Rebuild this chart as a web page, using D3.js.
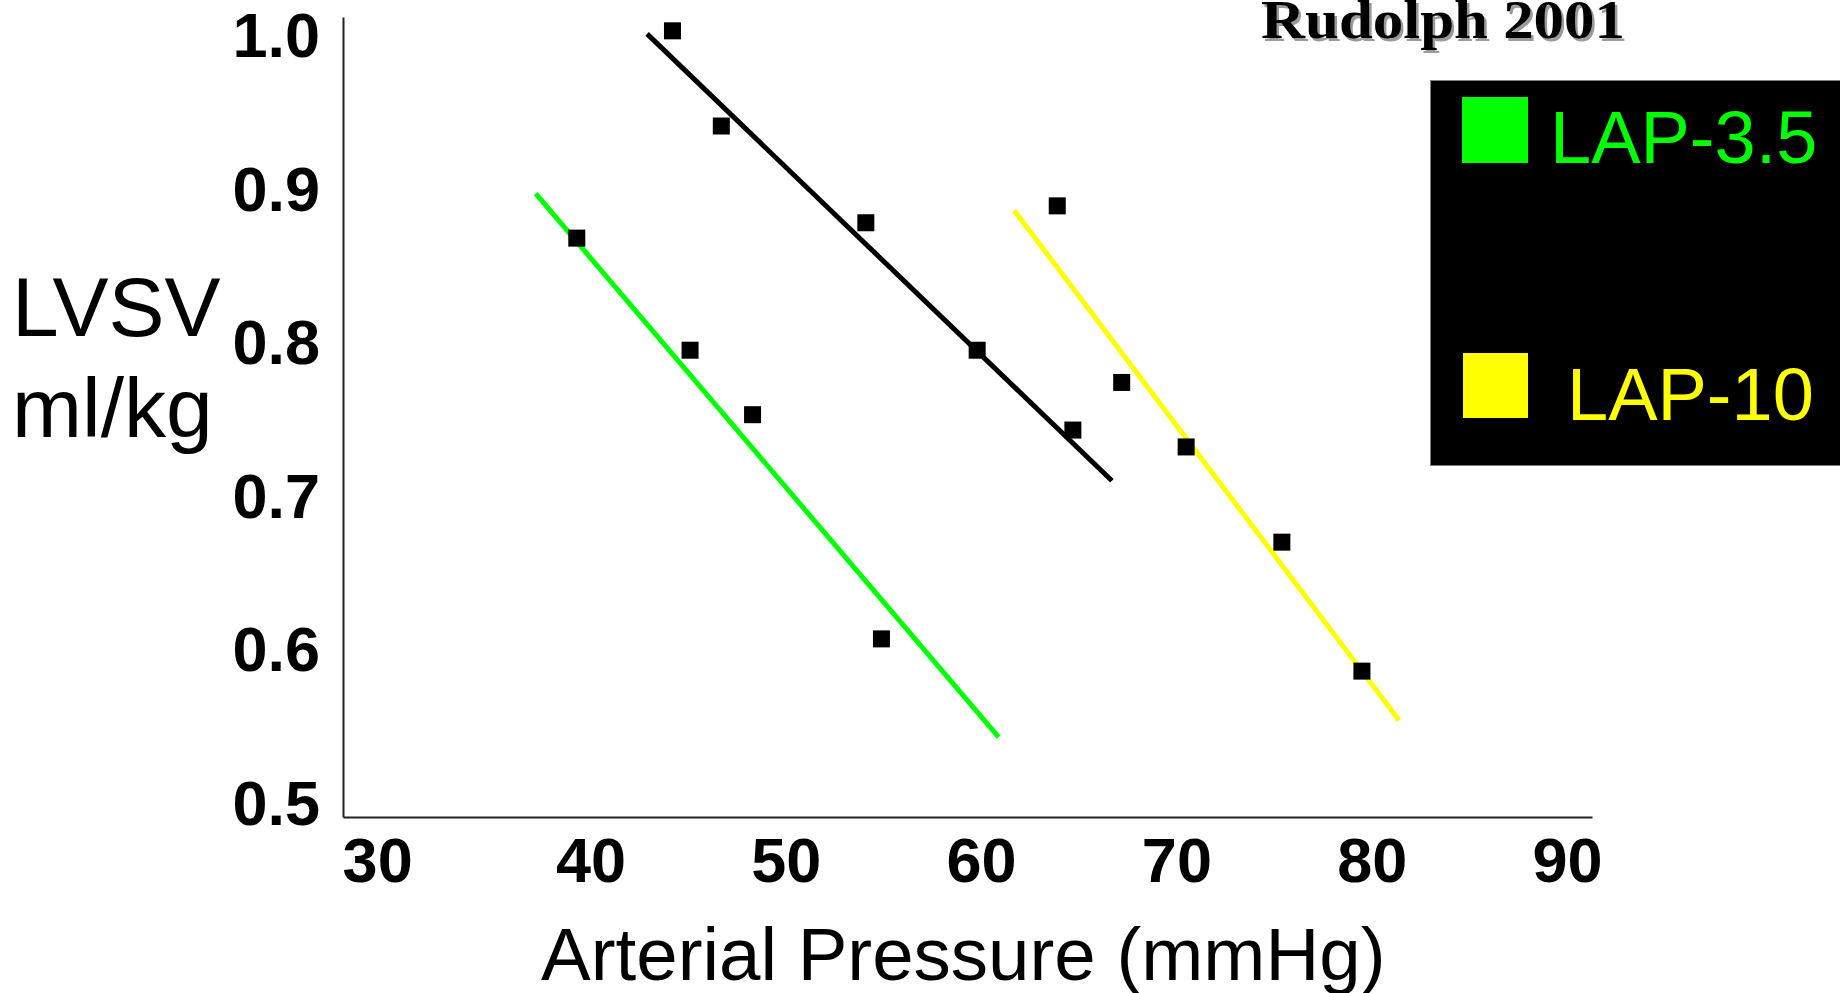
<!DOCTYPE html>
<html>
<head>
<meta charset="utf-8">
<script src="https://cdn.jsdelivr.net/npm/d3@7"></script>
<style>
  html, body { margin: 0; padding: 0; background: #fff; overflow: hidden; }
  svg { display: block; }
</style>
</head>
<body>
<svg id="chart" width="1840" height="993"></svg>
<script>
// Arterial pressure (mmHg) vs LVSV (ml/kg) measurements
const seriesNames = ["LAP-3.5", "baseline", "LAP-10"];
const seriesColors = ["#00ff00", "#000000", "#ffff00"];

const lap35Pressure = [39.3, 45.1, 48.3, 54.9];
const lap35Lvsv     = [0.867, 0.794, 0.752, 0.606];

const midPressure = [44.2, 46.7, 54.1, 59.8, 64.7];
const midLvsv     = [1.002, 0.940, 0.877, 0.794, 0.742];

const lap10Pressure = [63.9, 67.2, 70.5, 75.4, 79.5];
const lap10Lvsv     = [0.888, 0.773, 0.731, 0.669, 0.585];

// regression line end points: [x0, y0, x1, y1]
const lap35Fit = [37.2, 0.896, 60.9, 0.542];
const midFit   = [42.9, 1.000, 66.7, 0.709];
const lap10Fit = [61.7, 0.885, 81.4, 0.553];

const xTicks = [30, 40, 50, 60, 70, 80, 90];
const yTicks = [0.5, 0.6, 0.7, 0.8, 0.9, 1.0];
const legendLabels = ["LAP-3.5", "LAP-10"];
const legendColors = ["#00ff00", "#ffff00"];

const svg = d3.select("#chart");

const x = d3.scaleLinear().domain([27.33, 91.28]).range([343, 1592]);
const y = d3.scaleLinear().domain([0.49, 1.011]).range([817, 17]);

// axes
const xAxis = svg.append("g")
  .attr("transform", "translate(0,817)")
  .call(d3.axisBottom(x).tickValues(xTicks).tickSize(0).tickSizeOuter(0).tickPadding(20)
        .tickFormat(d3.format("d")));
const yAxis = svg.append("g")
  .attr("transform", "translate(343,0)")
  .call(d3.axisLeft(y).tickValues(yTicks).tickSize(0).tickSizeOuter(0).tickPadding(23)
        .tickFormat(d3.format(".1f")));

[xAxis, yAxis].forEach(g => {
  g.select(".domain").attr("stroke", "#222").attr("stroke-width", 2);
  g.selectAll("text")
    .attr("font-family", "'Liberation Sans', Arial, sans-serif")
    .attr("font-weight", "bold")
    .attr("font-size", 63)
    .attr("fill", "#000");
});
yAxis.selectAll("text").attr("dy", "0.36em");
// first category label sits a little inside the corner
xAxis.selectAll(".tick").filter(d => d === 30).select("text").attr("dx", -18);

// fitted lines
const fits = [lap35Fit, midFit, lap10Fit];
svg.append("g").selectAll("line")
  .data(fits)
  .join("line")
  .attr("x1", d => x(d[0])).attr("y1", d => y(d[1]))
  .attr("x2", d => x(d[2])).attr("y2", d => y(d[3]))
  .attr("stroke", (d, i) => seriesColors[i])
  .attr("stroke-width", 5)
  .attr("stroke-linecap", "butt");

// measured points
const points = [];
[[lap35Pressure, lap35Lvsv], [midPressure, midLvsv], [lap10Pressure, lap10Lvsv]]
  .forEach(([xs, ys], s) => xs.forEach((v, i) => points.push({ s, x: v, y: ys[i] })));

const m = 17;
svg.append("g").selectAll("rect")
  .data(points)
  .join("rect")
  .attr("x", d => x(d.x) - m / 2)
  .attr("y", d => y(d.y) - m / 2)
  .attr("width", m)
  .attr("height", m)
  .attr("fill", "#000");

// axis titles
const sans = "'Liberation Sans', Arial, sans-serif";
svg.append("text")
  .attr("x", 12).attr("y", 336)
  .attr("font-family", sans).attr("font-size", 84).attr("fill", "#000")
  .text("LVSV");
svg.append("text")
  .attr("x", 12).attr("y", 437)
  .attr("font-family", sans).attr("font-size", 84).attr("fill", "#000")
  .text("ml/kg");
svg.append("text")
  .attr("x", 541).attr("y", 980)
  .attr("font-family", sans).attr("font-size", 74.5).attr("fill", "#000")
  .text("Arterial Pressure (mmHg)");

// source note with drop shadow
const serif = "'Liberation Serif', 'Times New Roman', serif";
[["#9a9a9a", 2.5], ["#000", 0]].forEach(([c, off]) => {
  svg.append("text")
    .attr("x", 1261 + off).attr("y", 38 + off)
    .attr("font-family", serif).attr("font-weight", "bold").attr("font-size", 55)
    .attr("textLength", 364).attr("lengthAdjust", "spacingAndGlyphs")
    .attr("fill", c)
    .text("Rudolph 2001");
});

// legend
const legend = svg.append("g");
legend.append("rect")
  .attr("x", 1430.5).attr("y", 80.5)
  .attr("width", 420).attr("height", 385)
  .attr("fill", "#000").attr("stroke", "#7f7f7f").attr("stroke-width", 1);

const legendRows = [
  { sq: [1462, 97, 66, 66], tx: 1550, ty: 163 },
  { sq: [1463, 353, 65, 65], tx: 1567, ty: 420 }
];
legend.selectAll("g.item")
  .data(legendLabels)
  .join("g").attr("class", "item")
  .each(function (label, i) {
    const g = d3.select(this);
    const r = legendRows[i];
    g.append("rect")
      .attr("x", r.sq[0]).attr("y", r.sq[1])
      .attr("width", r.sq[2]).attr("height", r.sq[3])
      .attr("fill", legendColors[i]);
    g.append("text")
      .attr("x", r.tx).attr("y", r.ty)
      .attr("font-family", sans).attr("font-size", 74)
      .attr("fill", legendColors[i])
      .text(label);
  });
</script>
</body>
</html>
